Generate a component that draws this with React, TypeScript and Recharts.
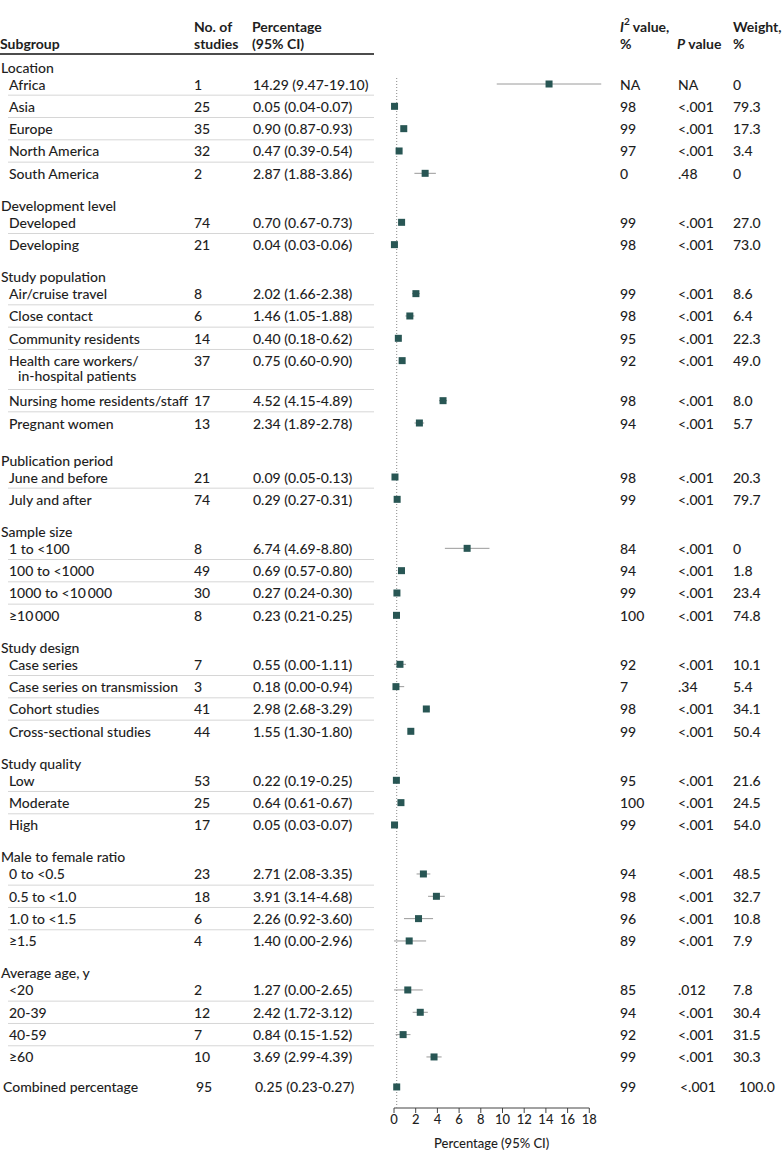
import React from 'react';
import { ScatterChart, Scatter, XAxis, YAxis, ErrorBar, ReferenceLine, Label } from 'recharts';

// ---------- data ----------
const groupNames = [
  'Location',
  'Development level',
  'Study population',
  'Publication period',
  'Sample size',
  'Study design',
  'Study quality',
  'Male to female ratio',
  'Average age, y',
];
const groupSizes = [5, 2, 6, 2, 4, 4, 3, 4, 4];

const subgroupLabels = [
  'Africa', 'Asia', 'Europe', 'North America', 'South America',
  'Developed', 'Developing',
  'Air/cruise travel', 'Close contact', 'Community residents', 'Health care workers/\nin-hospital patients', 'Nursing home residents/staff', 'Pregnant women',
  'June and before', 'July and after',
  '1 to <100', '100 to <1000', '1000 to <10\u2009000', '\u226510\u2009000',
  'Case series', 'Case series on transmission', 'Cohort studies', 'Cross-sectional studies',
  'Low', 'Moderate', 'High',
  '0 to <0.5', '0.5 to <1.0', '1.0 to <1.5', '\u22651.5',
  '<20', '20-39', '40-59', '\u226560',
];
const studyCounts = [1, 25, 35, 32, 2, 74, 21, 8, 6, 14, 37, 17, 13, 21, 74, 8, 49, 30, 8, 7, 3, 41, 44, 53, 25, 17, 23, 18, 6, 4, 2, 12, 7, 10];
const estimates = [14.29, 0.05, 0.9, 0.47, 2.87, 0.7, 0.04, 2.02, 1.46, 0.4, 0.75, 4.52, 2.34, 0.09, 0.29, 6.74, 0.69, 0.27, 0.23, 0.55, 0.18, 2.98, 1.55, 0.22, 0.64, 0.05, 2.71, 3.91, 2.26, 1.4, 1.27, 2.42, 0.84, 3.69];
const lowerCI = [9.47, 0.04, 0.87, 0.39, 1.88, 0.67, 0.03, 1.66, 1.05, 0.18, 0.6, 4.15, 1.89, 0.05, 0.27, 4.69, 0.57, 0.24, 0.21, 0.0, 0.0, 2.68, 1.3, 0.19, 0.61, 0.03, 2.08, 3.14, 0.92, 0.0, 0.0, 1.72, 0.15, 2.99];
const upperCI = [19.1, 0.07, 0.93, 0.54, 3.86, 0.73, 0.06, 2.38, 1.88, 0.62, 0.9, 4.89, 2.78, 0.13, 0.31, 8.8, 0.8, 0.3, 0.25, 1.11, 0.94, 3.29, 1.8, 0.25, 0.67, 0.07, 3.35, 4.68, 3.6, 2.96, 2.65, 3.12, 1.52, 4.39];
const i2Values = ['NA', '98', '99', '97', '0', '99', '98', '99', '98', '95', '92', '98', '94', '98', '99', '84', '94', '99', '100', '92', '7', '98', '99', '95', '100', '99', '94', '98', '96', '89', '85', '94', '92', '99'];
const pValues = ['NA', '<.001', '<.001', '<.001', '.48', '<.001', '<.001', '<.001', '<.001', '<.001', '<.001', '<.001', '<.001', '<.001', '<.001', '<.001', '<.001', '<.001', '<.001', '<.001', '.34', '<.001', '<.001', '<.001', '<.001', '<.001', '<.001', '<.001', '<.001', '<.001', '.012', '<.001', '<.001', '<.001'];
const weights = ['0', '79.3', '17.3', '3.4', '0', '27.0', '73.0', '8.6', '6.4', '22.3', '49.0', '8.0', '5.7', '20.3', '79.7', '0', '1.8', '23.4', '74.8', '10.1', '5.4', '34.1', '50.4', '21.6', '24.5', '54.0', '48.5', '32.7', '10.8', '7.9', '7.8', '30.4', '31.5', '30.3'];

const combinedLabel = 'Combined percentage';
const combinedCount = 95;
const combinedEstimate = 0.25;
const combinedLower = 0.23;
const combinedUpper = 0.27;
const combinedI2 = '99';
const combinedP = '<.001';
const combinedWeight = '100.0';

const xTicks = [0, 2, 4, 6, 8, 10, 12, 14, 16, 18];
const xAxisLabel = 'Percentage (95% CI)';

// ---------- layout ----------
const W = 783;
const H = 1161;
const FONT = 'Lato, "Noto Sans", sans-serif';
const FS = 14;
const BODY_WEIGHT = 500;
const HEAD_WEIGHT = 700;
const TEXT = '#1e1e1e';
const MARK = '#285654';
const CI = '#9a9a9a';
const SEP = '#d6d6d6';

const PLOT_BOTTOM = 1108;
const ROW = 22.33;
const HEAD_TO_ITEM = 17;
const ITEM_TO_HEAD = 32;
const WRAP_LINE = 15;
const EXTRA_LINE = 17.7;
const MULTI_GROUP_EXTRA = 5;
const FIRST_HEAD = 67;
const COMBINED_GAP = 30;
const HEADER_Y = 43;

const fmt = (v: number) => v.toFixed(2);

type Row = any;
const tableRows: Row[] = [];
const markerRows: Row[] = [];

tableRows.push({ kind: 'colhead', x: 0, y: HEADER_Y });
{
  let y = FIRST_HEAD;
  let k = 0;
  let extra = 0;
  groupNames.forEach((g, gi) => {
    if (gi > 0) y += ITEM_TO_HEAD + extra;
    tableRows.push({ kind: 'group', label: g, x: 0, y });
    let prevLines = 1;
    let hasMulti = false;
    for (let j = 0; j < groupSizes[gi]; j++, k++) {
      const lines = subgroupLabels[k].split('\n');
      y += j === 0 ? HEAD_TO_ITEM : ROW + (prevLines - 1) * EXTRA_LINE;
      if (lines.length > 1) hasMulti = true;
      tableRows.push({
        kind: 'item',
        first: j === 0,
        lines,
        n: studyCounts[k],
        pct: `${fmt(estimates[k])} (${fmt(lowerCI[k])}-${fmt(upperCI[k])})`,
        i2: i2Values[k],
        p: pValues[k],
        w: weights[k],
        x: 0,
        y,
      });
      markerRows.push({ x: estimates[k], y, errX: [estimates[k] - lowerCI[k], upperCI[k] - estimates[k]] });
      prevLines = lines.length;
    }
    extra = hasMulti ? MULTI_GROUP_EXTRA : 0;
  });
  y += COMBINED_GAP;
  tableRows.push({
    kind: 'combined',
    label: combinedLabel,
    n: combinedCount,
    pct: `${fmt(combinedEstimate)} (${fmt(combinedLower)}-${fmt(combinedUpper)})`,
    i2: combinedI2,
    p: combinedP,
    w: combinedWeight,
    x: 0,
    y,
  });
  markerRows.push({ x: combinedEstimate, y, errX: [combinedEstimate - combinedLower, combinedUpper - combinedEstimate] });
}
const refTop = tableRows[2].y - 6;

const T = (props: any) => (
  <text fontFamily={FONT} fontSize={FS} fontWeight={BODY_WEIGHT} fill={TEXT} dominantBaseline="central" {...props} />
);
const B = (props: any) => <T fontWeight={HEAD_WEIGHT} {...props} />;

const renderRow = (props: any) => {
  const { cy, payload } = props;
  if (cy == null) return null;
  const r = payload;
  if (r.kind === 'colhead') {
    const l1 = cy - 17;
    return (
      <g>
        <B x={0} y={cy}>Subgroup</B>
        <B x={194} y={l1}>No. of</B>
        <B x={194} y={cy}>studies</B>
        <B x={252} y={l1}>Percentage</B>
        <B x={252} y={cy}>(95% CI)</B>
        <B x={620} y={l1}>
          <tspan fontStyle="italic">I</tspan>
          <tspan fontSize={10} dy={-5}>2</tspan>
          <tspan dy={5}> value,</tspan>
        </B>
        <B x={620} y={cy}>%</B>
        <B x={677} y={cy}>
          <tspan fontStyle="italic">P</tspan> value
        </B>
        <B x={733} y={l1}>Weight,</B>
        <B x={733} y={cy}>%</B>
        <line x1={0} x2={374} y1={cy + 11} y2={cy + 11} stroke="#111" strokeWidth={1.3} />
      </g>
    );
  }
  if (r.kind === 'group') {
    return <T x={1} y={cy}>{r.label}</T>;
  }
  if (r.kind === 'item') {
    return (
      <g>
        {!r.first && <line x1={8} x2={374} y1={cy - ROW / 2} y2={cy - ROW / 2} stroke={SEP} strokeWidth={1} />}
        <T x={9} y={cy}>{r.lines[0]}</T>
        {r.lines[1] && <T x={18} y={cy + WRAP_LINE}>{r.lines[1]}</T>}
        <T x={194} y={cy}>{r.n}</T>
        <T x={253} y={cy}>{r.pct}</T>
        <T x={620} y={cy}>{r.i2}</T>
        <T x={678} y={cy}>{r.p}</T>
        <T x={733} y={cy}>{r.w}</T>
      </g>
    );
  }
  return (
    <g>
      <T x={3} y={cy}>{r.label}</T>
      <T x={196} y={cy}>{r.n}</T>
      <T x={255} y={cy}>{r.pct}</T>
      <T x={620} y={cy}>{r.i2}</T>
      <T x={680} y={cy}>{r.p}</T>
      <T x={739} y={cy}>{r.w}</T>
    </g>
  );
};

const renderMarker = (props: any) => {
  const { cx, cy } = props;
  if (cx == null || cy == null) return null;
  return <rect x={cx - 3.5} y={cy - 3.5} width={7} height={7} fill={MARK} />;
};

const AxisTitle = (props: any) => {
  const vb = props.viewBox || { x: 394, width: 217 };
  const cx = vb.x + (vb.width * (xTicks[xTicks.length - 1] / 20)) / 2;
  return (
    <text x={cx} y={1143} textAnchor="middle" dominantBaseline="central" fontFamily={FONT} fontSize={13} fontWeight={BODY_WEIGHT} fill={TEXT}>
      {xAxisLabel}
    </text>
  );
};

export default function App() {
  return (
    <div style={{ position: 'absolute', left: 0, top: 0, width: W, height: H, background: '#fff' }}>
      <ScatterChart width={W} height={H} margin={{ top: 0, right: 172, bottom: 0, left: 394 }}>
        <XAxis
          type="number"
          dataKey="x"
          domain={[0, 20]}
          ticks={xTicks}
          interval={0}
          height={H - PLOT_BOTTOM}
          axisLine={false}
          tickLine={{ stroke: '#444' }}
          tickSize={5}
          tickMargin={2}
          tick={{ fontFamily: FONT, fontSize: 13, fontWeight: BODY_WEIGHT, fill: TEXT }}
        >
          <Label content={<AxisTitle />} />
        </XAxis>
        <YAxis type="number" dataKey="y" domain={[0, PLOT_BOTTOM]} reversed hide />
        <ReferenceLine
          segment={[{ x: 0, y: PLOT_BOTTOM }, { x: xTicks[xTicks.length - 1], y: PLOT_BOTTOM }]}
          stroke="#444"
          strokeWidth={1}
        />
        <ReferenceLine
          segment={[{ x: combinedEstimate, y: refTop }, { x: combinedEstimate, y: PLOT_BOTTOM }]}
          stroke="#888"
          strokeDasharray="1 2"
          strokeWidth={1}
        />
        <Scatter data={tableRows} shape={renderRow} isAnimationActive={false} />
        <Scatter data={markerRows} shape={renderMarker} isAnimationActive={false}>
          <ErrorBar dataKey="errX" direction="x" width={0} stroke={CI} strokeWidth={1} />
        </Scatter>
      </ScatterChart>
    </div>
  );
}
